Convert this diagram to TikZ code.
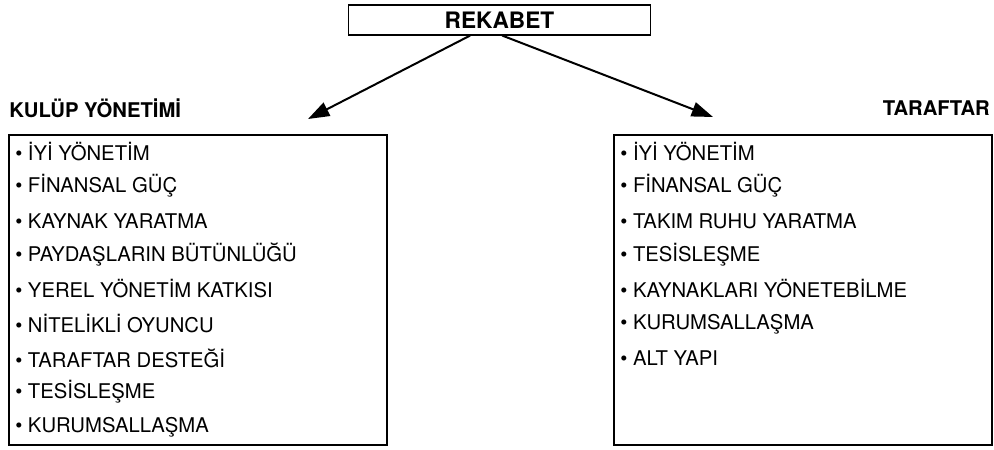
\documentclass[tikz,border=0pt]{standalone}
\usepackage{fontspec}
\setmainfont{TeX Gyre Heros}
\usetikzlibrary{arrows.meta}

\begin{document}
\begin{tikzpicture}[x=0.75pt, y=-0.75pt,
    yazi/.style={anchor=west, inner sep=0pt, font=\fontsize{15.2}{18}\selectfont},
    baslik/.style={inner sep=0pt, font=\bfseries\fontsize{15.2}{18}\selectfont},
    kutu/.style={draw, line width=0.8pt, minimum width=283.5pt, minimum height=232.5pt},
    ok/.style={line width=1.5pt, -{Triangle[length=16pt, width=11pt]}}]
    \useasboundingbox (0,0) rectangle (994,449);

    % Ana kutu
    \node[draw, line width=0.8pt, minimum width=227pt, minimum height=22.5pt,
          baslik, font=\bfseries\fontsize{17}{20}\selectfont] (rekabet) at (499.5,20) {REKABET};

    % Basliklar
    \node[baslik, anchor=west] (kulup) at (9,108) {KULÜP YÖNETİMİ};
    \node[baslik, anchor=east] (taraftar) at (990,108) {TARAFTAR};

    % Oklar
    \coordinate (solok) at (308,119);
    \coordinate (sagok) at (713,117);
    \draw[ok] ([xshift=-22pt]rekabet.south) -- (solok);
    \draw[ok] ([xshift=2pt]rekabet.south) -- (sagok);

    % Sol liste
    \node[kutu] (solkutu) at (198,290) {};
    \node[yazi] (s1) at (15,152) {• İYİ YÖNETİM};
    \node[yazi] (s2) at (15,186) {• FİNANSAL GÜÇ};
    \node[yazi] (s3) at (15,221) {• KAYNAK YARATMA};
    \node[yazi] (s4) at (15,255) {• PAYDAŞLARIN BÜTÜNLÜĞÜ};
    \node[yazi] (s5) at (15,289) {• YEREL YÖNETİM KATKISI};
    \node[yazi] (s6) at (15,324) {• NİTELİKLİ OYUNCU};
    \node[yazi] (s7) at (15,358) {• TARAFTAR DESTEĞİ};
    \node[yazi] (s8) at (15,392) {• TESİSLEŞME};
    \node[yazi] (s9) at (15,427) {• KURUMSALLAŞMA};

    % Sag liste
    \node[kutu] (sagkutu) at (803,290) {};
    \node[yazi] (t1) at (620,152) {• İYİ YÖNETİM};
    \node[yazi] (t2) at (620,186) {• FİNANSAL GÜÇ};
    \node[yazi] (t3) at (620,221) {• TAKIM RUHU YARATMA};
    \node[yazi] (t4) at (620,255) {• TESİSLEŞME};
    \node[yazi] (t5) at (620,289) {• KAYNAKLARI YÖNETEBİLME};
    \node[yazi] (t6) at (620,324) {• KURUMSALLAŞMA};
    \node[yazi] (t7) at (620,358) {• ALT YAPI};
\end{tikzpicture}
\end{document}
